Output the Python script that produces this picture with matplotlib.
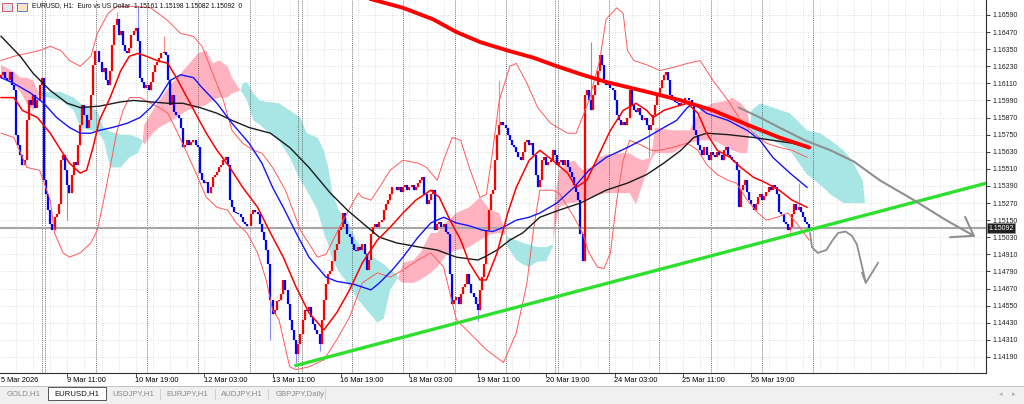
import matplotlib
matplotlib.use('Agg')
import matplotlib.pyplot as plt
import matplotlib.transforms as mtransforms
from matplotlib.patches import Rectangle
import numpy as np

plt.rcParams['font.family'] = ['Liberation Sans', 'DejaVu Sans']

# ---------------- datos (EURUSD H1) ----------------
first_open = 1.1615
closes = [
    1.1617, 1.1619, 1.1615, 1.1613, 1.1619, 1.1610, 1.1606, 1.1575, 1.1568, 1.1561, 1.1554, 1.1557, 1.1585, 1.1599, 1.1596, 1.1603, 1.1594, 1.1599, 1.1610, 1.1615,
    1.1543, 1.1533, 1.1522, 1.1512, 1.1508, 1.1517, 1.1519, 1.1526, 1.1557, 1.1561, 1.1550, 1.1540, 1.1534, 1.1547, 1.1556, 1.1554, 1.1568, 1.1582, 1.1596, 1.1589, 1.1580, 1.1585, 1.1603, 1.1624,
    1.1634, 1.1634, 1.1626, 1.1619, 1.1622, 1.1613, 1.1610, 1.1620, 1.1638, 1.1652, 1.1656, 1.1645, 1.1648, 1.1638, 1.1634, 1.1632, 1.1636, 1.1645, 1.1648, 1.1650, 1.1641, 1.1615, 1.1612, 1.1608,
    1.1610, 1.1606, 1.1612, 1.1619, 1.1624, 1.1626, 1.1629, 1.1632, 1.1633, 1.1631, 1.1613, 1.1596, 1.1603, 1.1591, 1.1589, 1.1587, 1.1580, 1.1566, 1.1568, 1.1571, 1.1568, 1.1570, 1.1571, 1.1568,
    1.1566, 1.1548, 1.1543, 1.1541, 1.1542, 1.1534, 1.1538, 1.1545, 1.1547, 1.1549, 1.1552, 1.1554, 1.1557, 1.1559, 1.1554, 1.1529, 1.1524, 1.1521, 1.1520, 1.1519, 1.1517, 1.1514, 1.1512, 1.1511,
    1.1511, 1.1519, 1.1522, 1.1521, 1.1519, 1.1512, 1.1507, 1.1501, 1.1494, 1.1484, 1.1459, 1.1449, 1.1452, 1.1458, 1.1459, 1.1463, 1.1473, 1.1466, 1.1456, 1.1445, 1.1438, 1.1431, 1.1421, 1.1428,
    1.1435, 1.1445, 1.1452, 1.1451, 1.1454, 1.1447, 1.1442, 1.1438, 1.1435, 1.1428, 1.1445, 1.1459, 1.1470, 1.1477, 1.1479, 1.1486, 1.1494, 1.1498, 1.1508, 1.1510, 1.1520, 1.1512, 1.1505, 1.1503,
    1.1498, 1.1494, 1.1493, 1.1496, 1.1494, 1.1498, 1.1491, 1.1480, 1.1487, 1.1505, 1.1510, 1.1512, 1.1510, 1.1514, 1.1515, 1.1522, 1.1526, 1.1529, 1.1533, 1.1538, 1.1538, 1.1536, 1.1538, 1.1535,
    1.1538, 1.1540, 1.1536, 1.1538, 1.1540, 1.1536, 1.1538, 1.1541, 1.1543, 1.1545, 1.1533, 1.1526, 1.1529, 1.1533, 1.1536, 1.1508, 1.1512, 1.1514, 1.1510, 1.1512, 1.1507, 1.1505, 1.1477, 1.1456,
    1.1459, 1.1461, 1.1456, 1.1463, 1.1468, 1.1470, 1.1477, 1.1470, 1.1464, 1.1461, 1.1456, 1.1452, 1.1466, 1.1475, 1.1484, 1.1508, 1.1522, 1.1533, 1.1536, 1.1557, 1.1575, 1.1582, 1.1584, 1.1582,
    1.1580, 1.1575, 1.1571, 1.1568, 1.1566, 1.1563, 1.1559, 1.1557, 1.1563, 1.1570, 1.1571, 1.1568, 1.1569, 1.1561, 1.1547, 1.1538, 1.1543, 1.1557, 1.1559, 1.1554, 1.1556, 1.1557, 1.1564, 1.1561,
    1.1554, 1.1556, 1.1557, 1.1554, 1.1557, 1.1552, 1.1549, 1.1545, 1.1540, 1.1535, 1.1529, 1.1505, 1.1486, 1.1603, 1.1606, 1.1599, 1.1592, 1.1603, 1.1610, 1.1620, 1.1631, 1.1624, 1.1613, 1.1610,
    1.1611, 1.1608, 1.1606, 1.1599, 1.1589, 1.1585, 1.1582, 1.1584, 1.1582, 1.1587, 1.1606, 1.1596, 1.1592, 1.1591, 1.1594, 1.1589, 1.1585, 1.1587, 1.1582, 1.1578, 1.1582, 1.1589, 1.1596, 1.1603,
    1.1608, 1.1613, 1.1617, 1.1619, 1.1613, 1.1603, 1.1599, 1.1598, 1.1597, 1.1596, 1.1597, 1.1599, 1.1601, 1.1601, 1.1599, 1.1596, 1.1578, 1.1575, 1.1568, 1.1564, 1.1561, 1.1566, 1.1561, 1.1557,
    1.1563, 1.1561, 1.1559, 1.1563, 1.1561, 1.1557, 1.1564, 1.1566, 1.1561, 1.1559, 1.1557, 1.1556, 1.1550, 1.1524, 1.1536, 1.1540, 1.1543, 1.1535, 1.1529, 1.1526, 1.1522, 1.1526, 1.1531, 1.1533,
    1.1529, 1.1532, 1.1535, 1.1538, 1.1536, 1.1540, 1.1538, 1.1533, 1.1521, 1.1519, 1.1514, 1.1512, 1.1508, 1.1510, 1.1519, 1.1526, 1.1522, 1.1524, 1.1521, 1.1517, 1.1514, 1.1512, 1.15092,
]
wick_hi = {54: 1.1661, 64: 1.1666, 76: 1.1644, 233: 1.1613, 276: 1.1640, 373: 1.1541}
wick_lo = {31: 1.1515, 126: 1.1431, 138: 1.1415, 149: 1.1423, 223: 1.1444, 303: 1.1559, 369: 1.1503}

# medias moviles (barra, precio)
black_x = [0, 9, 15, 23, 31, 37, 46, 56, 62, 70, 78, 85, 93, 101, 108, 116, 126, 135, 144, 154, 162, 169, 177, 185, 196, 204, 213, 223, 226, 232, 238, 244, 252, 261, 271, 283, 293, 302, 310, 318, 324, 330, 340, 352, 361, 370, 378]
black_y = [1.1644, 1.1630, 1.1618, 1.1606, 1.1597, 1.1594, 1.1595, 1.1598, 1.1599, 1.1598, 1.1597, 1.1597, 1.1594, 1.1590, 1.1585, 1.1580, 1.1576, 1.1566, 1.1552, 1.1534, 1.1522, 1.1513, 1.1503, 1.1499, 1.1496, 1.1494, 1.1489, 1.1487, 1.1489, 1.1494, 1.1501, 1.1506, 1.1517, 1.1522, 1.1527, 1.1536, 1.1541, 1.1547, 1.1555, 1.1564, 1.1573, 1.1576, 1.1575, 1.1573, 1.1571, 1.1569, 1.1566]

blue_x = [0, 6, 14, 20, 26, 32, 37, 42, 46, 52, 59, 65, 70, 74, 79, 84, 90, 94, 101, 108, 116, 122, 127, 132, 138, 144, 152, 157, 165, 173, 177, 183, 188, 195, 201, 207, 213, 219, 225, 230, 235, 241, 247, 252, 260, 268, 275, 283, 293, 302, 310, 316, 321, 324, 330, 340, 349, 355, 361, 369, 377]
blue_y = [1.1615, 1.1611, 1.1604, 1.1597, 1.1587, 1.1580, 1.1576, 1.1576, 1.1578, 1.1580, 1.1583, 1.1587, 1.1594, 1.1601, 1.1613, 1.1617, 1.1615, 1.1608, 1.1597, 1.1583, 1.1569, 1.1555, 1.1538, 1.1524, 1.1506, 1.1489, 1.1475, 1.1472, 1.1470, 1.1466, 1.1471, 1.1480, 1.1489, 1.1503, 1.1513, 1.1517, 1.1513, 1.1511, 1.1508, 1.1507, 1.1510, 1.1515, 1.1517, 1.1520, 1.1527, 1.1538, 1.1550, 1.1559, 1.1566, 1.1573, 1.1580, 1.1585, 1.1594, 1.1597, 1.1590, 1.1585, 1.1578, 1.1571, 1.1559, 1.1548, 1.1538]

mid_x = [0, 6, 10, 17, 23, 28, 32, 37, 40, 43, 46, 51, 56, 60, 64, 68, 73, 78, 82, 87, 92, 96, 101, 107, 113, 120, 126, 132, 138, 144, 151, 157, 163, 169, 176, 182, 188, 194, 201, 205, 210, 215, 219, 224, 227, 232, 237, 241, 247, 252, 258, 265, 269, 274, 279, 285, 291, 297, 302, 305, 310, 314, 321, 326, 330, 335, 341, 346, 352, 358, 364, 370, 377]
mid_y = [1.1601, 1.1601, 1.1592, 1.1587, 1.1576, 1.1564, 1.1555, 1.1548, 1.1550, 1.1566, 1.1585, 1.1601, 1.1620, 1.1630, 1.1632, 1.1630, 1.1627, 1.1625, 1.1615, 1.1601, 1.1587, 1.1576, 1.1564, 1.1552, 1.1538, 1.1524, 1.1506, 1.1489, 1.1468, 1.1450, 1.1438, 1.1450, 1.1466, 1.1485, 1.1501, 1.1510, 1.1520, 1.1529, 1.1536, 1.1531, 1.1515, 1.1501, 1.1485, 1.1473, 1.1473, 1.1492, 1.1520, 1.1538, 1.1557, 1.1564, 1.1557, 1.1548, 1.1538, 1.1543, 1.1559, 1.1578, 1.1592, 1.1597, 1.1592, 1.1587, 1.1592, 1.1594, 1.1597, 1.1590, 1.1576, 1.1564, 1.1559, 1.1552, 1.1545, 1.1541, 1.1536, 1.1529, 1.1524]

up_x = [0, 6, 12, 18, 23, 28, 32, 37, 42, 45, 50, 54, 62, 70, 78, 84, 90, 94, 99, 104, 108, 113, 118, 122, 127, 133, 140, 148, 152, 159, 167, 169, 173, 177, 182, 188, 195, 199, 204, 207, 211, 215, 219, 224, 227, 230, 233, 238, 241, 246, 251, 257, 265, 269, 275, 280, 283, 288, 291, 293, 296, 302, 308, 314, 321, 327, 333, 340, 346, 352, 358, 364, 370, 377]
up_y = [1.1627, 1.1630, 1.1632, 1.1634, 1.1637, 1.1634, 1.1627, 1.1623, 1.1630, 1.1646, 1.1660, 1.1665, 1.1665, 1.1664, 1.1655, 1.1646, 1.1644, 1.1637, 1.1618, 1.1599, 1.1578, 1.1569, 1.1564, 1.1562, 1.1552, 1.1536, 1.1508, 1.1489, 1.1491, 1.1512, 1.1534, 1.1531, 1.1529, 1.1538, 1.1550, 1.1557, 1.1555, 1.1552, 1.1543, 1.1557, 1.1573, 1.1571, 1.1552, 1.1531, 1.1533, 1.1564, 1.1599, 1.1623, 1.1625, 1.1611, 1.1594, 1.1583, 1.1576, 1.1576, 1.1599, 1.1627, 1.1656, 1.1664, 1.1660, 1.1634, 1.1627, 1.1624, 1.1620, 1.1622, 1.1625, 1.1627, 1.1613, 1.1599, 1.1585, 1.1576, 1.1569, 1.1566, 1.1564, 1.1559]

lo_x = [0, 6, 12, 18, 23, 25, 29, 32, 37, 42, 45, 48, 51, 54, 57, 60, 65, 70, 74, 78, 82, 87, 92, 96, 101, 106, 110, 115, 120, 124, 127, 130, 135, 138, 144, 151, 157, 163, 169, 176, 182, 188, 195, 201, 207, 213, 219, 227, 235, 241, 246, 249, 252, 258, 261, 268, 272, 275, 279, 282, 285, 288, 291, 294, 299, 304, 308, 314, 321, 326, 330, 335, 340, 344, 349, 354, 358, 363, 368, 372, 378]
lo_y = [1.1576, 1.1573, 1.1552, 1.1550, 1.1529, 1.1506, 1.1492, 1.1489, 1.1492, 1.1499, 1.1508, 1.1529, 1.1552, 1.1576, 1.1592, 1.1601, 1.1601, 1.1597, 1.1594, 1.1590, 1.1578, 1.1562, 1.1545, 1.1531, 1.1524, 1.1522, 1.1513, 1.1506, 1.1492, 1.1473, 1.1452, 1.1445, 1.1412, 1.1410, 1.1412, 1.1417, 1.1431, 1.1447, 1.1471, 1.1478, 1.1475, 1.1480, 1.1487, 1.1492, 1.1482, 1.1445, 1.1436, 1.1424, 1.1415, 1.1436, 1.1471, 1.1508, 1.1536, 1.1536, 1.1534, 1.1517, 1.1506, 1.1492, 1.1482, 1.1481, 1.1492, 1.1529, 1.1557, 1.1571, 1.1568, 1.1564, 1.1564, 1.1566, 1.1569, 1.1564, 1.1554, 1.1547, 1.1543, 1.1541, 1.1529, 1.1520, 1.1515, 1.1517, 1.1520, 1.1513, 1.1501]

ma200_x = [172, 188, 202, 213, 224, 237, 249, 260, 272, 283, 294, 305, 318, 333, 349, 364, 378]
ma200_y = [1.16705, 1.1664, 1.1656, 1.1647, 1.1640, 1.1634, 1.1629, 1.1623, 1.1617, 1.1612, 1.1608, 1.1604, 1.1599, 1.1592, 1.1582, 1.1573, 1.1566]

# nube ichimoku: span A / span B
cloud_x = [0, 6, 9, 12, 15, 18, 22, 28, 34, 37, 42, 45, 48, 51, 56, 60, 64, 66,
           67, 71, 74, 80, 87, 92, 96, 99, 102, 106, 108, 112,
           113, 115, 118, 121, 124, 130, 135, 140, 143, 148, 151, 153, 155, 158, 162, 166, 171, 176, 179, 182, 185,
           186, 188, 193, 196, 201, 204, 209, 213, 219, 224, 229, 233, 236,
           237, 241, 244, 247, 251, 255, 258,
           259, 261, 265, 268, 272, 276, 280, 283, 290, 294, 297, 300, 304, 306, 314, 322, 327, 333, 340, 342, 346, 349,
           351, 355, 361, 369, 377, 383, 388, 394, 398, 403, 404]
span_a = [1.1615, 1.1610, 1.1605, 1.1597, 1.1592, 1.1605, 1.1605, 1.1605, 1.1601, 1.1597, 1.1594, 1.1592, 1.1580, 1.1577, 1.1575, 1.1575, 1.1573, 1.1571,
          1.1568, 1.1576, 1.1580, 1.1585, 1.1592, 1.1594, 1.1596, 1.1599, 1.1601, 1.1601, 1.1604, 1.1606,
          1.1611, 1.1612, 1.1604, 1.1599, 1.1598, 1.1597, 1.1592, 1.1587, 1.1576, 1.1573, 1.1564, 1.1552, 1.1534, 1.1522, 1.1515, 1.1501, 1.1492, 1.1487, 1.1484, 1.1480, 1.1477,
          1.1473, 1.1471, 1.1471, 1.1473, 1.1478, 1.1482, 1.1492, 1.1494, 1.1496, 1.1501, 1.1505, 1.1506, 1.1505,
          1.1503, 1.1501, 1.1499, 1.1498, 1.1496, 1.1496, 1.1498,
          1.1508, 1.1524, 1.1527, 1.1527, 1.1529, 1.1531, 1.1533, 1.1534, 1.1534, 1.1534, 1.1526, 1.1540, 1.1557, 1.1562, 1.1562, 1.1569, 1.1571, 1.1571, 1.1566, 1.1564, 1.1562, 1.1562,
          1.1592, 1.1597, 1.1594, 1.1590, 1.1578, 1.1576, 1.1571, 1.1564, 1.1557, 1.1543, 1.1529]
span_b = [1.1624, 1.1619, 1.1615, 1.1615, 1.1613, 1.1603, 1.1601, 1.1599, 1.1592, 1.1580, 1.1578, 1.1577, 1.1571, 1.1552, 1.1552, 1.1559, 1.1562, 1.1569,
          1.1582, 1.1592, 1.1599, 1.1611, 1.1623, 1.1632, 1.1634, 1.1625, 1.1627, 1.1623, 1.1615, 1.1606,
          1.1604, 1.1599, 1.1585, 1.1582, 1.1578, 1.1571, 1.1559, 1.1543, 1.1536, 1.1522, 1.1506, 1.1498, 1.1487, 1.1479, 1.1471, 1.1461, 1.1452, 1.1443, 1.1446, 1.1466, 1.1473,
          1.1475, 1.1485, 1.1487, 1.1492, 1.1506, 1.1506, 1.1515, 1.1520, 1.1524, 1.1531, 1.1522, 1.1520, 1.1506,
          1.1496, 1.1487, 1.1484, 1.1482, 1.1486, 1.1486, 1.1496,
          1.1529, 1.1550, 1.1555, 1.1557, 1.1550, 1.1552, 1.1559, 1.1561, 1.1562, 1.1562, 1.1559, 1.1557, 1.1559, 1.1580, 1.1578, 1.1578, 1.1592, 1.1597, 1.1599, 1.1601, 1.1597, 1.1592,
          1.1576, 1.1573, 1.1571, 1.1564, 1.1547, 1.1540, 1.1533, 1.1527, 1.1527, 1.1527, 1.1527]

# lineas dibujadas a mano
trend_x = [138, 461]
trend_y = [1.1413, 1.1541]
arc_x = [345, 355, 364, 376, 388, 399, 411, 427, 442, 455]
arc_y = [1.1594, 1.1587, 1.1580, 1.1571, 1.1564, 1.1556, 1.1543, 1.1529, 1.1515, 1.1504]
arc_head_x = [451, 455, 444]
arc_head_y = [1.1517, 1.1504, 1.1503]
sq_x = [378.4, 379.3, 382, 386, 389, 391.5, 395, 398, 400.3, 402, 404.5]
sq_y = [1.1506, 1.1496, 1.1492, 1.1494, 1.1501, 1.1506, 1.1507, 1.1504, 1.1498, 1.1487, 1.1471]
sq_head_x = [402.7, 404.5, 410.2]
sq_head_y = [1.1478, 1.1471, 1.1485]

last_price = 1.15092
price_ticks = [1.14190, 1.14310, 1.14430, 1.14550, 1.14670, 1.14790, 1.14910, 1.15030, 1.15150, 1.15270, 1.15390,
               1.15510, 1.15630, 1.15750, 1.15870, 1.15990, 1.16110, 1.16230, 1.16350, 1.16470, 1.16590]
time_bars = [31, 63, 95, 127, 159, 191, 223, 255, 287, 319, 351]
time_labels = ['9 Mar 11:00', '10 Mar 19:00', '12 Mar 03:00', '13 Mar 11:00', '16 Mar 19:00', '18 Mar 03:00',
               '19 Mar 11:00', '20 Mar 19:00', '24 Mar 03:00', '25 Mar 11:00', '26 Mar 19:00']
day_starts = [19.1, 20.5, 44.3, 68.3, 92.1, 116.4, 138.9, 140.7, 164.1, 188, 212.3, 236.2, 259.1, 260.5,
              284.3, 307.7, 332, 355.9, 379.8]
tabs = ['GOLD,H1', 'EURUSD,H1', 'USDJPY,H1', 'EURJPY,H1', 'AUDJPY,H1', 'GBPJPY,Daily']
tab_centers = [24, 77, 133, 187, 242, 300]

# ---------------- figura ----------------
W, H = 1024, 404
fig = plt.figure(figsize=(W / 100, H / 100), dpi=100)
ax = fig.add_axes([0, 31 / H, 986 / W, 373 / H])
ax.set_xlim(-0.5, 460.7)
ax.set_ylim(1.14077, 1.16695)
for s in ['top', 'left']:
    ax.spines[s].set_visible(False)
for s in ['right', 'bottom']:
    ax.spines[s].set_color('#303030')
    ax.spines[s].set_linewidth(0.8)

# rejilla punteada
for b in range(7, 461, 8):
    ax.axvline(b, color='#d4d4d4', lw=0.6, ls=(0, (1, 2)), zorder=0.5)
for p in price_ticks:
    ax.axhline(p, color='#d4d4d4', lw=0.6, ls=(0, (1, 2)), zorder=0.5)
for b in day_starts:
    ax.axvline(b, color='#505050', lw=0.6, ls=(0, (1, 1.3)), zorder=1.5)

# nube
cx = np.array(cloud_x, dtype=float)
sa = np.array(span_a)
sb = np.array(span_b)
ax.fill_between(cx, sa, sb, where=sa >= sb, interpolate=True, color='#a8e6e6', lw=0, zorder=1)
ax.fill_between(cx, sa, sb, where=sa < sb, interpolate=True, color='#ffb3c0', lw=0, zorder=1)

# precio actual
ax.axhline(last_price, color='#a6a6a6', lw=1.5, zorder=2)

# velas
bars = np.arange(len(closes))
opens = [first_open] + closes[:-1]
highs, lows, body_c, wick_c = [], [], [], []
for i, (o, c) in enumerate(zip(opens, closes)):
    highs.append(wick_hi.get(i, max(o, c)))
    lows.append(wick_lo.get(i, min(o, c)))
    up = c >= o
    body_c.append('#ff0000' if up else '#0000ff')
    wick_c.append('#ff8a8a' if up else '#8a8aff')
ax.vlines(bars, lows, highs, colors=wick_c, lw=0.8, zorder=3)
ax.vlines(bars, np.minimum(opens, closes), np.maximum(opens, closes), colors=body_c, lw=1.6, zorder=3.1)

# indicadores
ax.plot(up_x, up_y, color='#ff5a5a', lw=0.7, zorder=4)
ax.plot(lo_x, lo_y, color='#ff5a5a', lw=0.7, zorder=4)
ax.plot(black_x, black_y, color='#1a1a1a', lw=1.0, zorder=4)
ax.plot(blue_x, blue_y, color='#1414ff', lw=1.0, zorder=4)
ax.plot(mid_x, mid_y, color='#ff0000', lw=1.1, zorder=4)
ax.plot(ma200_x, ma200_y, color='#ff0000', lw=2.8, zorder=5, solid_capstyle='round')
ax.plot(trend_x, trend_y, color='#2ee02e', lw=2.4, zorder=6)

# flechas dibujadas
ax.plot(arc_x, arc_y, color='#8f8f8f', lw=1.5, zorder=6, solid_capstyle='round')
ax.plot(arc_head_x, arc_head_y, color='#8f8f8f', lw=1.5, zorder=6, solid_joinstyle='round')
ax.plot(sq_x, sq_y, color='#8f8f8f', lw=1.3, zorder=6, solid_capstyle='round')
ax.plot(sq_head_x, sq_head_y, color='#8f8f8f', lw=1.3, zorder=6, solid_joinstyle='round')

# eje de precios
ax.yaxis.tick_right()
ax.set_yticks(price_ticks)
ax.set_yticklabels(['%.5f' % p for p in price_ticks])
ax.tick_params(axis='y', length=3, width=0.6, pad=1.5, labelsize=5, colors='#202020')
blend = mtransforms.blended_transform_factory(ax.transAxes, ax.transData)
ax.text(1.0025, last_price, '%.5f' % last_price, transform=blend, fontsize=5, color='white',
        va='center', ha='left', zorder=10, clip_on=False,
        bbox=dict(boxstyle='square,pad=0.2', fc='#202020', ec='#909090', lw=0.5))

# eje de tiempo
ax.set_xticks(time_bars)
ax.set_xticklabels([])
ax.tick_params(axis='x', length=3, width=0.6, color='#303030')
tblend = mtransforms.blended_transform_factory(ax.transData, ax.transAxes)
for b, t in zip(time_bars, time_labels):
    ax.text(b - 0.3, -0.019, t, transform=tblend, fontsize=5.3, ha='left', va='center', clip_on=False)
ax.text(0.1, -0.019, '5 Mar 2026', transform=tblend, fontsize=5.3, ha='left', va='center', clip_on=False)

# cabecera
fig.text(32 / W, 1 - 6 / H, 'EURUSD, H1:  Euro vs US Dollar  1.15161 1.15198 1.15082 1.15092  0',
         fontsize=4.8, va='center', ha='left', color='#101010')
fig.add_artist(Rectangle((2 / W, 1 - 11 / H), 10 / W, 8 / H, transform=fig.transFigure,
                         fc='#dbe6f6', ec='#d04848', lw=0.6))
fig.add_artist(Rectangle((17 / W, 1 - 11 / H), 10 / W, 8 / H, transform=fig.transFigure,
                         fc='#fbe2c8', ec='#3a6cc8', lw=0.6))

# barra de pestañas
fig.add_artist(Rectangle((0, 0), 1, 18 / H, transform=fig.transFigure, fc='#f0f0f0', ec='none'))
fig.add_artist(plt.Line2D([0, 1], [18 / H, 18 / H], transform=fig.transFigure, color='#b8b8b8', lw=0.6))
fig.add_artist(Rectangle((48 / W, 4 / H), 58 / W, 13.5 / H, transform=fig.transFigure,
                         fc='white', ec='#555555', lw=0.7))
for xs in [160, 215, 268, 325]:
    fig.add_artist(plt.Line2D([xs / W, xs / W], [5 / H, 15 / H], transform=fig.transFigure,
                              color='#c8c8c8', lw=0.6))
for t, xc in zip(tabs, tab_centers):
    fig.text(xc / W, 10 / H, t, fontsize=5.6, ha='center', va='center',
             color='#101010' if t == 'EURUSD,H1' else '#8a8a8a')
fig.text(1001 / W, 10 / H, '\u25c2', fontsize=5, ha='center', va='center', color='#b0b0b0', family='DejaVu Sans')
fig.text(1014 / W, 10 / H, '\u25b8', fontsize=5, ha='center', va='center', color='#b0b0b0', family='DejaVu Sans')

fig.savefig('out.png', dpi=100)
